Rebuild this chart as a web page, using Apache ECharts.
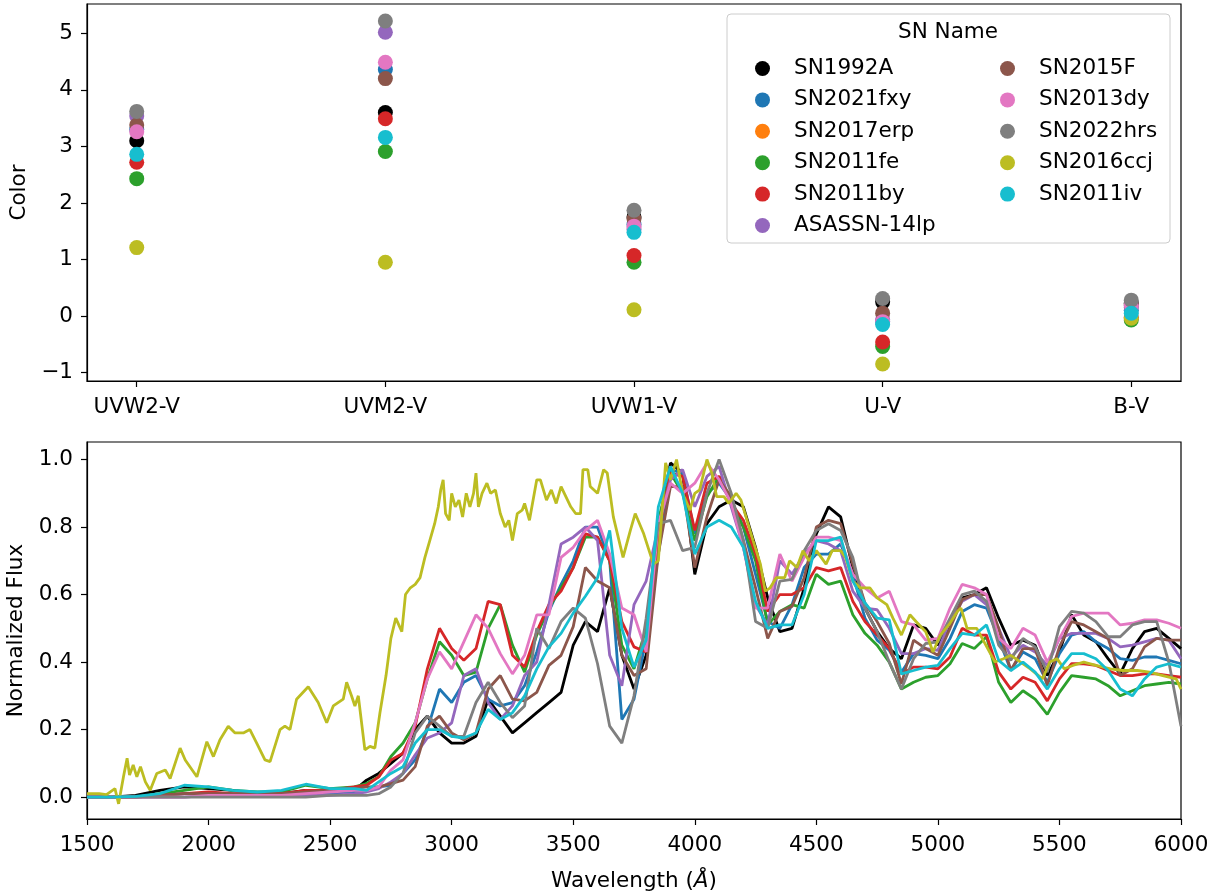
<!DOCTYPE html>
<html>
<head>
<meta charset="utf-8">
<script src="https://cdn.jsdelivr.net/npm/echarts@6.0.0/dist/echarts.min.js"></script>
<style>
  html, body { margin: 0; padding: 0; background: #fff; }
  #chart { width: 1221px; height: 896px; }
</style>
</head>
<body>
<div id="chart"></div>
<script>
// top panel: colour indices per band
const bands = ['UVW2-V', 'UVM2-V', 'UVW1-V', 'U-V', 'B-V']
const snNames = ['SN1992A', 'SN2021fxy', 'SN2017erp', 'SN2011fe', 'SN2011by', 'ASASSN-14lp',
  'SN2015F', 'SN2013dy', 'SN2022hrs', 'SN2016ccj', 'SN2011iv']
const snColors = ['#000000', '#1f77b4', '#ff7f0e', '#2ca02c', '#d62728', '#9467bd',
  '#8c564b', '#e377c2', '#7f7f7f', '#bcbd22', '#17becf']

const color1992A = [3.10, 3.60, 1.75, 0.25, 0.22]
const color2021fxy = [3.30, 4.36, 1.62, -0.10, 0.10]
const color2017erp = [null, null, null, null, null]
const color2011fe = [2.43, 2.91, 0.95, -0.54, -0.07]
const color2011by = [2.72, 3.49, 1.07, -0.46, -0.02]
const color14lp = [3.54, 5.02, 1.53, -0.06, 0.15]
const color2015F = [3.38, 4.20, 1.72, 0.05, 0.20]
const color2013dy = [3.26, 4.49, 1.59, -0.10, 0.19]
const color2022hrs = [3.62, 5.22, 1.87, 0.31, 0.28]
const color2016ccj = [1.21, 0.95, 0.11, -0.85, -0.04]
const color2011iv = [2.86, 3.16, 1.48, -0.15, 0.05]

const colorTicks = [-1, 0, 1, 2, 3, 4, 5]
const fluxTicks = [0, 0.2, 0.4, 0.6, 0.8, 1.0]

// bottom panel: normalized spectra
const wave = [1500, 1600, 1700, 1800, 1900, 2000, 2100, 2200, 2300, 2400, 2500, 2600,
  2650, 2700, 2750, 2800, 2850, 2900, 2950, 3000, 3050, 3100, 3150, 3200, 3250, 3300,
  3350, 3400, 3450, 3500, 3550, 3600, 3650, 3700, 3750, 3800, 3850, 3900, 3950, 4000,
  4050, 4100, 4150, 4200, 4250, 4300, 4350, 4400, 4450, 4500, 4550, 4600, 4650, 4700,
  4750, 4800, 4850, 4900, 4950, 5000, 5050, 5100, 5150, 5200, 5250, 5300, 5350, 5400,
  5450, 5500, 5550, 5600, 5650, 5700, 5750, 5800, 5850, 5900, 5950, 6000]

const flux1992A = [0, 0, 0.005, 0.02, 0.03, 0.025, 0.02, 0.01, 0.01, 0.02, 0.02, 0.02,
  0.05, 0.07, 0.10, 0.13, 0.20, 0.24, 0.19, 0.16, 0.16, 0.18, 0.29, 0.24, 0.19, 0.22,
  0.25, 0.28, 0.31, 0.45, 0.52, 0.49, 0.62, 0.42, 0.32, 0.42, 0.80, 0.99, 0.96, 0.66,
  0.81, 0.86, 0.88, 0.86, 0.74, 0.59, 0.49, 0.50, 0.62, 0.78, 0.86, 0.83, 0.68, 0.56,
  0.49, 0.44, 0.41, 0.51, 0.50, 0.45, 0.51, 0.59, 0.60, 0.62, 0.53, 0.45, 0.465, 0.45,
  0.36, 0.43, 0.54, 0.48, 0.46, 0.41, 0.365, 0.44, 0.49, 0.50, 0.47, 0.44]
const flux2021fxy = [0, 0, 0, 0.005, 0.01, 0.01, 0.005, 0.005, 0.005, 0.01, 0.01, 0.015,
  0.02, 0.03, 0.035, 0.07, 0.11, 0.20, 0.32, 0.28, 0.34, 0.36, 0.29, 0.27, 0.28, 0.33,
  0.43, 0.55, 0.63, 0.70, 0.80, 0.80, 0.70, 0.23, 0.29, 0.47, 0.72, 0.97, 0.96, 0.78,
  0.90, 0.93, 0.88, 0.80, 0.66, 0.52, 0.50, 0.57, 0.68, 0.72, 0.72, 0.75, 0.66, 0.53,
  0.465, 0.435, 0.37, 0.425, 0.42, 0.41, 0.47, 0.55, 0.57, 0.56, 0.47, 0.375, 0.43, 0.41,
  0.34, 0.425, 0.48, 0.49, 0.46, 0.44, 0.41, 0.405, 0.415, 0.415, 0.405, 0.395]
const flux2011fe = [0, 0, 0, 0.01, 0.02, 0.03, 0.02, 0.015, 0.015, 0.035, 0.025, 0.03,
  0.04, 0.06, 0.12, 0.16, 0.22, 0.35, 0.46, 0.42, 0.36, 0.37, 0.50, 0.57, 0.45, 0.37,
  0.48, 0.56, 0.62, 0.68, 0.77, 0.77, 0.70, 0.45, 0.38, 0.50, 0.82, 0.96, 0.90, 0.76,
  0.89, 0.95, 0.87, 0.80, 0.70, 0.51, 0.55, 0.57, 0.56, 0.66, 0.63, 0.64, 0.54, 0.485,
  0.45, 0.40, 0.32, 0.34, 0.355, 0.36, 0.395, 0.455, 0.44, 0.475, 0.34, 0.28, 0.315, 0.29,
  0.245, 0.31, 0.36, 0.355, 0.35, 0.33, 0.30, 0.315, 0.33, 0.335, 0.34, 0.335]
const flux2011by = [0, 0, 0, 0.005, 0.01, 0.015, 0.01, 0.01, 0.01, 0.02, 0.02, 0.03,
  0.035, 0.06, 0.11, 0.13, 0.21, 0.38, 0.50, 0.44, 0.405, 0.44, 0.58, 0.57, 0.42, 0.385,
  0.49, 0.57, 0.61, 0.68, 0.78, 0.77, 0.70, 0.52, 0.445, 0.43, 0.78, 0.96, 0.95, 0.79,
  0.93, 0.95, 0.87, 0.82, 0.72, 0.55, 0.60, 0.60, 0.62, 0.68, 0.67, 0.68, 0.58, 0.52,
  0.48, 0.44, 0.365, 0.385, 0.385, 0.38, 0.415, 0.50, 0.48, 0.48, 0.37, 0.32, 0.355, 0.34,
  0.285, 0.35, 0.395, 0.395, 0.39, 0.375, 0.36, 0.36, 0.365, 0.365, 0.36, 0.355]
const flux14lp = [0, 0, 0, 0, 0, 0.005, 0.005, 0.005, 0.005, 0.005, 0.005, 0.01,
  0.015, 0.025, 0.045, 0.07, 0.125, 0.175, 0.19, 0.22, 0.36, 0.38, 0.28, 0.23, 0.27, 0.36,
  0.40, 0.57, 0.75, 0.77, 0.80, 0.76, 0.42, 0.33, 0.57, 0.64, 0.80, 0.94, 0.97, 0.86,
  0.95, 0.98, 0.86, 0.74, 0.57, 0.51, 0.70, 0.66, 0.72, 0.76, 0.75, 0.73, 0.61, 0.56,
  0.555, 0.50, 0.425, 0.425, 0.44, 0.435, 0.52, 0.58, 0.60, 0.57, 0.50, 0.415, 0.45, 0.43,
  0.39, 0.47, 0.485, 0.485, 0.485, 0.47, 0.445, 0.45, 0.46, 0.47, 0.465, 0.41]
const flux2015F = [0, 0, 0, 0.005, 0.01, 0.01, 0.01, 0.01, 0.01, 0.015, 0.02, 0.025,
  0.03, 0.03, 0.04, 0.05, 0.09, 0.21, 0.24, 0.19, 0.17, 0.19, 0.32, 0.36, 0.29, 0.285,
  0.31, 0.39, 0.42, 0.505, 0.68, 0.64, 0.62, 0.42, 0.36, 0.38, 0.72, 0.92, 0.92, 0.68,
  0.83, 0.94, 0.89, 0.76, 0.62, 0.47, 0.55, 0.565, 0.65, 0.80, 0.82, 0.81, 0.69, 0.575,
  0.52, 0.455, 0.335, 0.465, 0.44, 0.42, 0.50, 0.585, 0.60, 0.60, 0.50, 0.375, 0.44, 0.44,
  0.33, 0.445, 0.52, 0.51, 0.49, 0.47, 0.36, 0.38, 0.445, 0.47, 0.465, 0.465]
const flux2013dy = [0, 0, 0, 0, 0, 0.005, 0.005, 0.005, 0.005, 0.01, 0.015, 0.02,
  0.02, 0.03, 0.08, 0.11, 0.22, 0.35, 0.43, 0.38, 0.46, 0.54, 0.50, 0.425, 0.365, 0.42,
  0.54, 0.54, 0.71, 0.74, 0.79, 0.82, 0.72, 0.56, 0.54, 0.43, 0.81, 0.93, 0.90, 0.93,
  0.99, 0.94, 0.87, 0.74, 0.56, 0.56, 0.72, 0.64, 0.71, 0.77, 0.77, 0.76, 0.66, 0.62,
  0.59, 0.61, 0.52, 0.51, 0.465, 0.47, 0.56, 0.63, 0.62, 0.60, 0.47, 0.44, 0.50, 0.48,
  0.40, 0.47, 0.535, 0.545, 0.545, 0.545, 0.51, 0.515, 0.525, 0.525, 0.515, 0.50]
const flux2022hrs = [0, 0, 0, 0, 0, 0, 0, 0, 0, 0, 0.005, 0.005,
  0.005, 0.01, 0.03, 0.07, 0.19, 0.24, 0.21, 0.18, 0.18, 0.28, 0.34, 0.28, 0.235, 0.27,
  0.50, 0.44, 0.52, 0.56, 0.53, 0.395, 0.21, 0.16, 0.30, 0.53, 0.81, 0.82, 0.73, 0.74,
  0.90, 1.0, 0.90, 0.76, 0.52, 0.50, 0.64, 0.645, 0.73, 0.79, 0.81, 0.79, 0.71, 0.56,
  0.49, 0.40, 0.32, 0.41, 0.455, 0.46, 0.53, 0.60, 0.61, 0.58, 0.45, 0.405, 0.47, 0.445,
  0.37, 0.505, 0.55, 0.545, 0.52, 0.475, 0.475, 0.51, 0.52, 0.52, 0.40, 0.21]
const flux2011iv = [0, 0, 0.002, 0.01, 0.035, 0.03, 0.02, 0.015, 0.02, 0.038, 0.025, 0.025,
  0.02, 0.045, 0.07, 0.09, 0.16, 0.20, 0.20, 0.18, 0.175, 0.19, 0.26, 0.23, 0.25, 0.30,
  0.38, 0.445, 0.485, 0.545, 0.595, 0.65, 0.79, 0.50, 0.385, 0.465, 0.86, 0.98, 0.90, 0.72,
  0.80, 0.82, 0.80, 0.74, 0.58, 0.50, 0.51, 0.51, 0.60, 0.76, 0.76, 0.77, 0.64, 0.575,
  0.53, 0.525, 0.365, 0.375, 0.385, 0.39, 0.44, 0.485, 0.48, 0.51, 0.405, 0.375, 0.40, 0.37,
  0.32, 0.38, 0.425, 0.425, 0.41, 0.375, 0.32, 0.30, 0.35, 0.385, 0.395, 0.385]

// SN2016ccj is noisier, so it has its own wavelength samples
const waveCcj = [1500, 1550, 1580, 1615, 1630, 1650, 1665, 1675, 1690, 1705,
  1720, 1740, 1760, 1787, 1822, 1842, 1883, 1904, 1952, 1993,
  2020, 2047, 2081, 2109, 2143, 2170, 2198, 2232, 2253, 2294,
  2314, 2335, 2362, 2410, 2451, 2486, 2513, 2554, 2568, 2588,
  2602, 2616, 2643, 2664, 2684, 2705, 2730, 2750, 2770, 2795,
  2810, 2830, 2850, 2870, 2890, 2910, 2930, 2945, 2955, 2965,
  2975, 2990, 3000, 3015, 3030, 3045, 3060, 3075, 3090, 3100,
  3110, 3125, 3145, 3160, 3180, 3200, 3220, 3235, 3250, 3270,
  3290, 3300, 3320, 3350, 3365, 3390, 3410, 3430, 3450, 3490,
  3510, 3530, 3540, 3560, 3570, 3600, 3625, 3640, 3665, 3705,
  3735, 3755, 3790, 3830, 3850, 3880, 3900, 3925, 3950, 3980,
  4000, 4020, 4050, 4070, 4090, 4120, 4140, 4170, 4190, 4240,
  4270, 4290, 4310, 4335, 4370, 4390, 4420, 4445, 4470, 4500,
  4540, 4565, 4600, 4620, 4650, 4680, 4720, 4750, 4790, 4815,
  4850, 4885, 4910, 4950, 4980, 5010, 5045, 5080, 5095, 5120,
  5160, 5190, 5235, 5270, 5300, 5340, 5380, 5430, 5460, 5490,
  5520, 5555, 5600, 5650, 5710, 5760, 5820, 5870, 5925, 5980, 6000]
const flux2016ccj = [0.01, 0.01, 0.007, 0.025, -0.02, 0.06, 0.115, 0.065, 0.095, 0.06,
  0.09, 0.045, 0.02, 0.07, 0.08, 0.055, 0.145, 0.11, 0.06, 0.164,
  0.12, 0.17, 0.21, 0.19, 0.19, 0.20, 0.16, 0.11, 0.105, 0.20,
  0.21, 0.20, 0.29, 0.327, 0.28, 0.22, 0.27, 0.29, 0.34, 0.30,
  0.27, 0.30, 0.14, 0.15, 0.145, 0.25, 0.36, 0.47, 0.53, 0.49,
  0.60, 0.62, 0.63, 0.65, 0.71, 0.76, 0.81, 0.86, 0.91, 0.94,
  0.84, 0.82, 0.90, 0.86, 0.88, 0.83, 0.90, 0.86, 0.90, 0.96,
  0.86, 0.90, 0.93, 0.90, 0.91, 0.84, 0.80, 0.82, 0.76, 0.84,
  0.85, 0.87, 0.82, 0.94, 0.94, 0.88, 0.91, 0.87, 0.92, 0.86,
  0.84, 0.84, 0.97, 0.97, 0.92, 0.90, 0.97, 0.96, 0.83, 0.71,
  0.79, 0.84, 0.78, 0.69, 0.70, 0.99, 0.94, 1.0, 0.90, 0.85,
  0.90, 0.91, 1.0, 0.96, 0.89, 0.89, 0.87, 0.90, 0.88, 0.76,
  0.69, 0.61, 0.62, 0.65, 0.65, 0.70, 0.68, 0.73, 0.70, 0.73,
  0.69, 0.73, 0.73, 0.71, 0.64, 0.62, 0.62, 0.59, 0.57, 0.53,
  0.48, 0.54, 0.52, 0.49, 0.43, 0.48, 0.51, 0.55, 0.56, 0.50,
  0.50, 0.46, 0.40, 0.41, 0.42, 0.40, 0.38, 0.35, 0.40, 0.41,
  0.38, 0.39, 0.40, 0.39, 0.38, 0.375, 0.375, 0.37, 0.36, 0.35, 0.32]

const colorRows = [color1992A, color2021fxy, color2017erp, color2011fe, color2011by, color14lp,
  color2015F, color2013dy, color2022hrs, color2016ccj, color2011iv]
const spectra = [
  ['SN1992A', wave, flux1992A],
  ['SN2021fxy', wave, flux2021fxy],
  ['SN2011fe', wave, flux2011fe],
  ['SN2011by', wave, flux2011by],
  ['ASASSN-14lp', wave, flux14lp],
  ['SN2015F', wave, flux2015F],
  ['SN2013dy', wave, flux2013dy],
  ['SN2022hrs', wave, flux2022hrs],
  ['SN2016ccj', waveCcj, flux2016ccj],
  ['SN2011iv', wave, flux2011iv]
]

const FONT = 'DejaVu Sans'
const FS = 21.5
const minus = v => (v < 0 ? '\u2212' + Math.abs(v) : String(v))

const chart = echarts.init(document.getElementById('chart'), null, { renderer: 'canvas' })

const scatterSeries = snNames.map((name, k) => ({
  type: 'scatter',
  name,
  xAxisIndex: 0,
  yAxisIndex: 0,
  symbolSize: 15,
  itemStyle: { color: snColors[k], opacity: 1 },
  emphasis: { disabled: true },
  data: colorRows[k].map((v, i) => [i, v])
}))

const lineSeries = spectra.map(([name, xs, ys]) => ({
  type: 'line',
  name,
  xAxisIndex: 1,
  yAxisIndex: 1,
  showSymbol: false,
  symbol: 'none',
  lineStyle: { width: 2.8, color: snColors[snNames.indexOf(name)] },
  itemStyle: { color: snColors[snNames.indexOf(name)] },
  emphasis: { disabled: true },
  data: xs.map((x, i) => [x, ys[i]])
}))

const axisCommon = {
  axisLine: { show: true, onZero: false, lineStyle: { color: '#000', width: 1.2 } },
  splitLine: { show: false },
  axisTick: { show: true, length: 6, lineStyle: { color: '#000', width: 1.2 } },
  axisLabel: { color: '#000', fontSize: FS, fontFamily: FONT, margin: 14 },
  nameTextStyle: { color: '#000', fontSize: FS, fontFamily: FONT }
}

const legendCommon = {
  orient: 'vertical',
  icon: 'circle',
  itemWidth: 15,
  itemHeight: 15,
  itemGap: 8.4,
  selectedMode: false,
  top: 52,
  textStyle: { color: '#000', fontSize: FS, fontFamily: FONT, lineHeight: 23, padding: [0, 0, 0, 19] }
}

const gridCommon = {
  left: 87, width: 1094, height: 377, show: true,
  borderColor: '#000', borderWidth: 1.2, backgroundColor: 'transparent',
  outerBoundsMode: 'none', containLabel: false
}

chart.setOption({
  animation: false,
  backgroundColor: '#fff',
  textStyle: { fontFamily: FONT },
  grid: [
    { ...gridCommon, top: 4 },
    { ...gridCommon, top: 442 }
  ],
  xAxis: [
    {
      ...axisCommon,
      type: 'value', gridIndex: 0, min: -0.2, max: 4.2,
      axisTick: { ...axisCommon.axisTick, customValues: [0, 1, 2, 3, 4] },
      axisLabel: { ...axisCommon.axisLabel, margin: 15, customValues: [0, 1, 2, 3, 4], formatter: v => bands[Math.round(v)] }
    },
    {
      ...axisCommon,
      type: 'value', gridIndex: 1, min: 1500, max: 6000, interval: 500,
      axisLabel: { ...axisCommon.axisLabel, margin: 15, showMinLabel: true, showMaxLabel: true, formatter: v => String(v) },
      name: 'Wavelength ({i|Å})', nameLocation: 'middle', nameGap: 51,
      nameTextStyle: { ...axisCommon.nameTextStyle, rich: { i: { fontStyle: 'italic', fontSize: FS, fontFamily: FONT, color: '#000' } } }
    }
  ],
  yAxis: [
    {
      ...axisCommon,
      type: 'value', gridIndex: 0, min: -1.15, max: 5.52,
      axisTick: { ...axisCommon.axisTick, customValues: colorTicks },
      axisLabel: { ...axisCommon.axisLabel, customValues: colorTicks, formatter: v => minus(v) },
      name: 'Color', nameLocation: 'middle', nameGap: 57, nameRotate: 90
    },
    {
      ...axisCommon,
      type: 'value', gridIndex: 1, min: -0.065, max: 1.052,
      axisTick: { ...axisCommon.axisTick, customValues: fluxTicks },
      axisLabel: { ...axisCommon.axisLabel, customValues: fluxTicks, formatter: v => v.toFixed(1) },
      name: 'Normalized Flux', nameLocation: 'middle', nameGap: 60, nameRotate: 90
    }
  ],
  legend: [
    { ...legendCommon, left: 750, data: snNames.slice(0, 6) },
    { ...legendCommon, left: 995, data: snNames.slice(6) }
  ],
  graphic: [
    {
      type: 'rect', z: 3,
      shape: { x: 727, y: 14, width: 443, height: 229, r: 4 },
      style: { fill: 'rgba(255,255,255,0.8)', stroke: '#cccccc', lineWidth: 1 }
    },
    {
      type: 'text', z: 4,
      style: { text: 'SN Name', x: 948, y: 32, textAlign: 'center', textVerticalAlign: 'middle', fontSize: FS, fontFamily: FONT, fill: '#000' }
    }
  ],
  series: [...scatterSeries, ...lineSeries]
})
</script>
</body>
</html>
